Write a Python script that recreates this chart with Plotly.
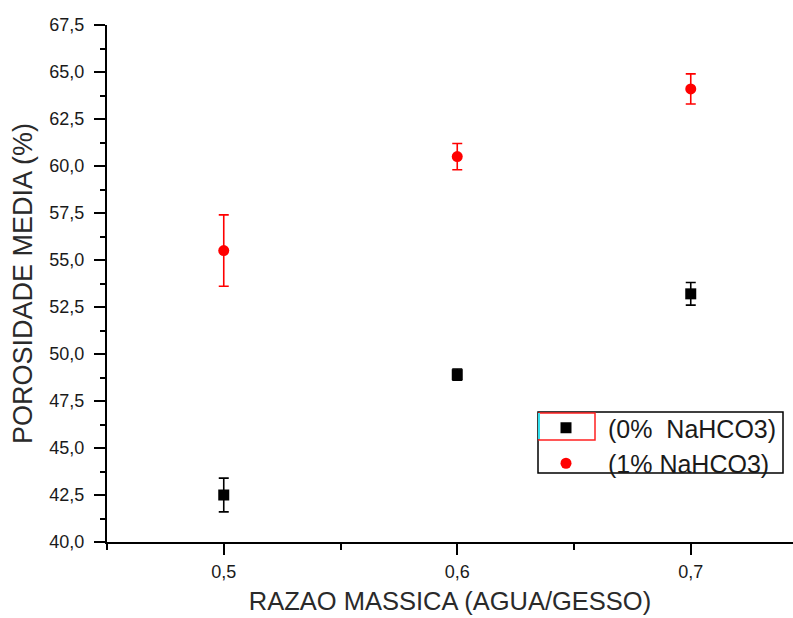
import plotly.graph_objects as go

# Porosidade média em função da razão mássica água/gesso
razao = [0.5, 0.6, 0.7]

poro_0 = [42.5, 48.9, 53.2]      # 0% NaHCO3
erro_0 = [0.9, 0.3, 0.6]

poro_1 = [55.5, 60.5, 64.1]      # 1% NaHCO3
erro_1 = [1.9, 0.7, 0.8]

nomes = ["(0%\u00a0\u00a0NaHCO3)", "(1% NaHCO3)"]

W, H = 793, 618
ML, MR, MT, MB = 107, 0, 25, 76
PW, PH = W - ML - MR, H - MT - MB


def px(x):
    return (x - ML) / PW


def py(y):
    return (H - MB - y) / PH


fig = go.Figure()
fig.add_trace(go.Scatter(
    x=razao, y=poro_0, mode="markers", name=nomes[0],
    marker=dict(symbol="square", size=11, color="black"),
    error_y=dict(type="data", array=erro_0, visible=True,
                 color="black", thickness=1.6, width=5),
))
fig.add_trace(go.Scatter(
    x=razao, y=poro_1, mode="markers", name=nomes[1],
    marker=dict(symbol="circle", size=11, color="#ff0000"),
    error_y=dict(type="data", array=erro_1, visible=True,
                 color="#ff0000", thickness=1.6, width=5),
))

FAM = "Liberation Sans, Arial, sans-serif"
tick_font = dict(family=FAM, size=18, color="#1a1a1a")

fig.update_layout(
    width=W, height=H,
    margin=dict(l=ML, r=MR, t=MT, b=MB),
    paper_bgcolor="white", plot_bgcolor="white",
    separators=",.",
    showlegend=True,
    legend=dict(
        x=px(524), y=py(405), xanchor="left", yanchor="top",
        bgcolor="rgba(0,0,0,0)", borderwidth=0,
        itemwidth=74,
        font=dict(family=FAM, size=25, color="#1a1a1a"),
    ),
    xaxis=dict(
        range=[0.45, 0.45 + PW / 2335],
        tickvals=razao, tickformat=".1f",
        showline=True, linecolor="black", linewidth=2,
        ticks="outside", ticklen=11, tickwidth=1.6, tickcolor="black",
        minor=dict(tickvals=[0.45, 0.55, 0.65], ticks="outside", ticklen=6,
                   tickwidth=1.6, tickcolor="black"),
        showgrid=False, zeroline=False,
        tickfont=tick_font, ticklabelstandoff=1,
        title=dict(text="RAZAO MASSICA (AGUA/GESSO)",
                   font=dict(family=FAM, size=25.5, color="#2a2a2a"), standoff=12),
    ),
    yaxis=dict(
        range=[40, 67.5], tick0=40, dtick=2.5, tickformat=".1f",
        showline=True, linecolor="black", linewidth=2,
        ticks="outside", ticklen=11, tickwidth=1.6, tickcolor="black",
        minor=dict(dtick=1.25, ticks="outside", ticklen=5,
                   tickwidth=1.6, tickcolor="black"),
        showgrid=False, zeroline=False,
        tickfont=tick_font, ticklabelstandoff=6,
        title=dict(text="POROSIDADE MEDIA (%)",
                   font=dict(family=FAM, size=27, color="#2a2a2a"), standoff=9),
    ),
    shapes=[
        # moldura da legenda
        dict(type="rect", xref="paper", yref="paper",
             x0=px(538), x1=px(783), y0=py(473), y1=py(412),
             line=dict(color="black", width=1.5), fillcolor="white", layer="above"),
        # destaque do primeiro símbolo
        dict(type="rect", xref="paper", yref="paper",
             x0=px(539), x1=px(595), y0=py(440), y1=py(413),
             line=dict(color="#ff2020", width=1.5), layer="above"),
        dict(type="line", xref="paper", yref="paper",
             x0=px(539), x1=px(539), y0=py(439), y1=py(413),
             line=dict(color="#33e0ee", width=2), layer="above"),
    ],
)

fig.write_html("out.html")
